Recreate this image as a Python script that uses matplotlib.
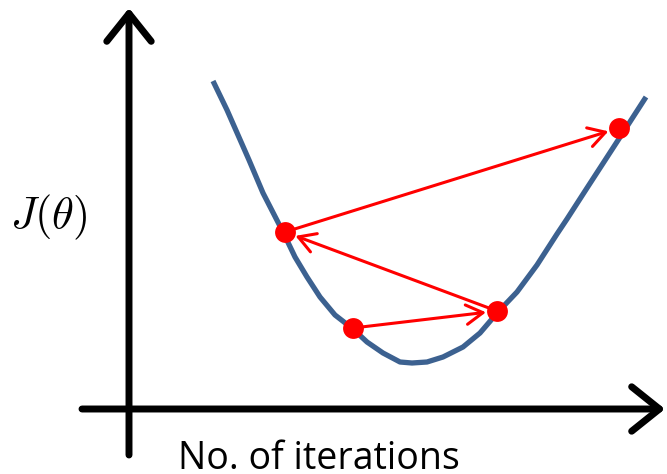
import matplotlib
matplotlib.use("Agg")
import matplotlib.pyplot as plt
from matplotlib import font_manager

plt.rcParams['mathtext.fontset'] = 'cm'

# Cost curve J(theta) (abstract units)
curve_x = [1.68, 1.96, 2.40, 2.68, 3.08, 3.32, 3.56, 3.82, 4.12, 4.48, 4.76,
           5.08, 5.42, 5.66, 5.96, 6.28, 6.68, 7.02, 7.38, 7.76, 8.16, 8.56,
           8.76, 9.16, 9.92, 10.34]
curve_y = [6.56, 5.98, 4.98, 4.32, 3.54, 3.04, 2.64, 2.24, 1.88, 1.60, 1.34,
           1.12, 0.94, 0.92, 0.94, 1.04, 1.24, 1.52, 1.94, 2.34, 2.88, 3.50,
           3.80, 4.42, 5.59, 6.24]

# Gradient descent steps (in visiting order)
step_x = [4.48, 7.36, 3.12, 9.80]
step_y = [1.62, 1.96, 3.54, 5.62]

x_label = "No. of iterations"
y_label = r"$J(\theta)$"

fig = plt.figure(figsize=(6.67, 4.74), dpi=100)
ax = fig.add_axes([0, 0, 1, 1])
ax.set_xlim(-2.58, 10.76)
ax.set_ylim(-1.30, 8.18)
ax.axis('off')

# axes with arrow heads
axis_kw = dict(arrowstyle='->,head_length=0.5,head_width=0.4', lw=5,
               color='black', mutation_scale=40, capstyle='round',
               joinstyle='round', shrinkA=0, shrinkB=0)
ax.annotate('', xy=(10.72, 0), xytext=(-0.94, 0), arrowprops=axis_kw)
ax.annotate('', xy=(0, 8.02), xytext=(0, -0.92), arrowprops=axis_kw)

# curve
ax.plot(curve_x, curve_y, color='#3C6190', lw=3.8, solid_capstyle='butt',
        solid_joinstyle='round', zorder=3)

# steps arrows
for i in range(len(step_x) - 1):
    ax.annotate('', xy=(step_x[i + 1], step_y[i + 1]),
                xytext=(step_x[i], step_y[i]),
                arrowprops=dict(arrowstyle='->,head_length=0.6,head_width=0.35',
                                lw=2.2, color='red', mutation_scale=20,
                                shrinkA=0, shrinkB=8),
                zorder=4)

ax.plot(step_x, step_y, 'o', color='red', markersize=15, zorder=5, mec='none')

ax.text(-1.6, 3.84, y_label, fontsize=32, ha='center', va='center')

fams = [f.name for f in font_manager.fontManager.ttflist]
fam = 'Liberation Sans Narrow' if 'Liberation Sans Narrow' in fams else 'Open Sans'
ax.text(0.98, -1.20, x_label, fontsize=27, family=fam, ha='left', va='baseline')

fig.savefig('out.png', dpi=100)
